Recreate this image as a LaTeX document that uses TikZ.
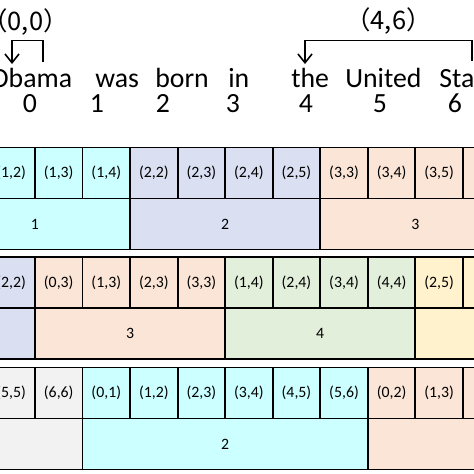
\documentclass[tikz,border=0pt]{standalone}
\usepackage{fontspec}
\setmainfont{Carlito}
\newfontfamily\cjk{Noto Sans CJK JP}
\usetikzlibrary{arrows.meta}
\definecolor{cyanbox}{HTML}{CCFFFF}
\definecolor{bluebox}{HTML}{DADFF2}
\definecolor{orangebox}{HTML}{FBE5D6}
\definecolor{greenbox}{HTML}{E2EFDA}
\definecolor{yellowbox}{HTML}{FFF2CC}
\definecolor{graybox}{HTML}{F2F2F2}

\begin{document}
\begin{tikzpicture}[x=0.02cm,y=-0.02cm,
  word/.style={anchor=base west,inner sep=0pt,text depth=0pt,font=\fontsize{15.8}{18}\selectfont},
  idx/.style={anchor=base,inner sep=0pt,text height=10pt,font=\fontsize{15.8}{18}\selectfont},
  pair/.style={inner sep=0pt,font=\cjk\fontsize{14.5}{16}\selectfont},
  cell/.style={draw,line width=1.1pt,minimum width=0.951cm,minimum height=1.02cm,
    inner sep=0pt,font=\fontsize{9}{10}\selectfont},
  brk/.style={line width=0.9pt,-{Straight Barb[length=5pt,width=8pt]}}]
  \useasboundingbox (0,0) rectangle (474,474);
  \clip (0,0) rectangle (474,474);

  \node[word] (w0) at (-10,87) {Obama};
  \node[word] (w1) at (95,87) {was};
  \node[word] (w2) at (155,87) {born};
  \node[word] (w3) at (228,87) {in};
  \node[word] (w4) at (291,87) {the};
  \node[word] (w5) at (345,87) {United};
  \node[word] (w6) at (439,87) {States};
  \node[idx] (i0) at (30,112) {0};
  \node[idx] (i1) at (97,112) {1};
  \node[idx] (i2) at (163,112) {2};
  \node[idx] (i3) at (233,112) {3};
  \node[idx] (i4) at (306,112) {4};
  \node[idx] (i5) at (380,112) {5};
  \node[idx] (i6) at (455,112) {6};

  \node[pair] (p00) at (25.5,22) {（0,0）};
  \node[pair] (p46) at (388.5,21) {（4,6）};
  \coordinate (r00) at (43,62);
  \coordinate (l00) at (12,64);
  \coordinate (r46) at (472,61);
  \coordinate (l46) at (305,64);
  \draw[brk] (r00) -- ++(0,-21.3) -| (l00);
  \draw[brk] (r46) -- ++(0,-20.3) -| (l46);

  \foreach \c/\i/\j/\f in {0/1/2/cyanbox,1/1/3/cyanbox,2/1/4/cyanbox,
      3/2/2/bluebox,4/2/3/bluebox,5/2/4/bluebox,6/2/5/bluebox,
      7/3/3/orangebox,8/3/4/orangebox,9/3/5/orangebox}
    \node[cell,fill=\f] (a\c) at ({11.175+47.55*\c},173) {(\i,\j)};
  \node[cell,fill=orangebox] (a10) at (486.7,173) {};
  \node[cell,fill=cyanbox,minimum width=3.804cm] (aw1) at (34.95,224) {1};
  \node[cell,fill=bluebox,minimum width=3.804cm] (aw2) at (225.15,224) {2};
  \node[cell,fill=orangebox,minimum width=3.804cm] (aw3) at (415.35,224) {3};

  \foreach \c/\i/\j/\f in {0/2/2/bluebox,
      1/0/3/orangebox,2/1/3/orangebox,3/2/3/orangebox,4/3/3/orangebox,
      5/1/4/greenbox,6/2/4/greenbox,7/3/4/greenbox,8/4/4/greenbox,
      9/2/5/yellowbox}
    \node[cell,fill=\f] (b\c) at ({11.175+47.55*\c},282.5) {(\i,\j)};
  \node[cell,fill=yellowbox] (b10) at (486.7,282.5) {};
  \node[cell,fill=bluebox,minimum width=3.804cm] (bw2) at (-60.15,333.5) {};
  \node[cell,fill=orangebox,minimum width=3.804cm] (bw3) at (130.05,333.5) {3};
  \node[cell,fill=greenbox,minimum width=3.804cm] (bw4) at (320.25,333.5) {4};
  \node[cell,fill=yellowbox,minimum width=3.804cm] (bw5) at (510.45,333.5) {};

  \foreach \c/\i/\j/\f in {0/5/5/graybox,1/6/6/graybox,
      2/0/1/cyanbox,3/1/2/cyanbox,4/2/3/cyanbox,5/3/4/cyanbox,6/4/5/cyanbox,
      7/5/6/cyanbox,8/0/2/orangebox,9/1/3/orangebox}
    \node[cell,fill=\f] (c\c) at ({11.175+47.55*\c},393) {(\i,\j)};
  \node[cell,fill=orangebox] (c10) at (486.7,393) {};
  \node[cell,fill=graybox,minimum width=3.804cm] (cw1) at (-12.6,444) {};
  \node[cell,fill=cyanbox,minimum width=5.706cm] (cw2) at (225.15,444) {2};
  \node[cell,fill=orangebox,minimum width=3.804cm] (cw3) at (462.9,444) {};
\end{tikzpicture}
\end{document}
